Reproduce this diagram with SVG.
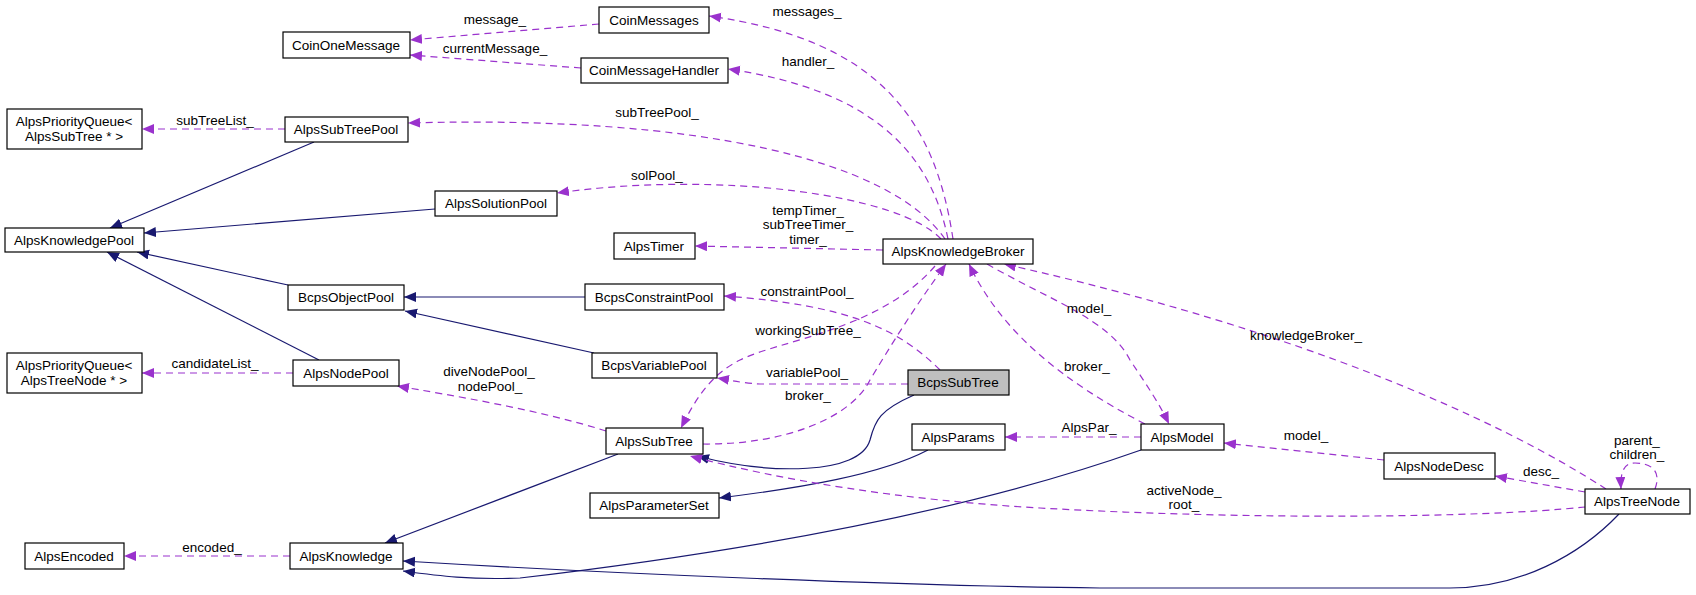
<svg xmlns="http://www.w3.org/2000/svg" width="1696" height="595" viewBox="0 0 1696 595">
<style>
.n rect{fill:#fff;stroke:#000;stroke-width:1.2}
.n text,.l{font-family:"Liberation Sans",Arial,sans-serif;font-size:13.5px;text-anchor:middle;fill:#000}
.i{fill:none;stroke:#191970;stroke-width:1.2;marker-end:url(#ai)}
.u{fill:none;stroke:#9a32cd;stroke-width:1.2;stroke-dasharray:7,5;marker-end:url(#au)}
</style>
<defs>
<marker id="ai" markerUnits="userSpaceOnUse" markerWidth="14" markerHeight="12" refX="12" refY="5" orient="auto"><path d="M0,0 L12,5 L0,10 Z" fill="#191970"/></marker>
<marker id="au" markerUnits="userSpaceOnUse" markerWidth="14" markerHeight="12" refX="12" refY="5" orient="auto"><path d="M0,0 L12,5 L0,10 Z" fill="#9a32cd"/></marker>
</defs>
<rect width="1696" height="595" fill="#fff"/>
<g id="connectors">
<path class="i" d="M314,142 L110,228"/>
<path class="i" d="M435,209 L144,233"/>
<path class="i" d="M288,285 L137,252"/>
<path class="i" d="M319,360 L107,252"/>
<path class="i" d="M585,297 L404,297"/>
<path class="i" d="M594,353 L405,311"/>
<path class="i" d="M914,395 C880,410 875,420 870,440 C860,475 770,475 697,456"/>
<path class="i" d="M928,450 C880,475 800,488 719,498"/>
<path class="i" d="M1141,450 C1000,500 800,545 520,578 C470,580 440,576 403,571"/>
<path class="i" d="M1619,514 C1580,555 1520,588 1450,588 L1100,588 C900,586 600,573 403,561"/>
<path class="i" d="M618,454 L385,543"/>
<path class="u" d="M599,24 L410,40"/>
<path class="u" d="M581,68 L410,55"/>
<path class="u" d="M285,129 L142,129"/>
<path class="u" d="M953,239 C935,120 880,40 709,16"/>
<path class="u" d="M948,239 C930,150 870,90 728,69"/>
<path class="u" d="M945,239 C890,160 700,115 408,123"/>
<path class="u" d="M941,239 C900,195 720,170 557,193"/>
<path class="u" d="M883,250 L695,246"/>
<path class="u" d="M940,370 C900,330 850,305 724,296"/>
<path class="u" d="M908,384 L760,384 C740,383 730,380 717,378"/>
<path class="u" d="M935,266 C880,330 780,340 740,360 C710,375 695,400 681,428"/>
<path class="u" d="M703,444 C780,445 850,420 870,380 C900,330 920,300 946,264"/>
<path class="u" d="M606,431 C540,410 450,395 397,386"/>
<path class="u" d="M1145,424 C1060,380 1000,330 969,264"/>
<path class="u" d="M987,264 C1050,300 1110,320 1130,360 C1150,390 1160,405 1169,424"/>
<path class="u" d="M1141,437 L1005,437"/>
<path class="u" d="M1384,460 L1224,443"/>
<path class="u" d="M1606,489 C1500,420 1300,330 1004,264"/>
<path class="u" d="M1585,492 L1495,476"/>
<path class="u" d="M1655,489 C1662,470 1650,463 1635,463 C1625,463 1620,470 1621,489"/>
<path class="u" d="M1585,507 C1480,518 1250,520 1040,508 C900,500 780,480 690,456"/>
<path class="u" d="M293,373 L142,373"/>
<path class="u" d="M290,556 L124,556"/>
<text class="l" x="495" y="24">message_</text>
<text class="l" x="495" y="53">currentMessage_</text>
<text class="l" x="215" y="125">subTreeList_</text>
<text class="l" x="807" y="16">messages_</text>
<text class="l" x="808" y="66">handler_</text>
<text class="l" x="657" y="117">subTreePool_</text>
<text class="l" x="657" y="180">solPool_</text>
<text class="l" x="808" y="215">tempTimer_</text>
<text class="l" x="808" y="229">subTreeTimer_</text>
<text class="l" x="808" y="244">timer_</text>
<text class="l" x="807" y="296">constraintPool_</text>
<text class="l" x="808" y="335">workingSubTree_</text>
<text class="l" x="807" y="377">variablePool_</text>
<text class="l" x="808" y="400">broker_</text>
<text class="l" x="489" y="376">diveNodePool_</text>
<text class="l" x="490" y="391">nodePool_</text>
<text class="l" x="1087" y="371">broker_</text>
<text class="l" x="1089" y="313">model_</text>
<text class="l" x="1089" y="432">AlpsPar_</text>
<text class="l" x="1306" y="440">model_</text>
<text class="l" x="1306" y="340">knowledgeBroker_</text>
<text class="l" x="1541" y="476">desc_</text>
<text class="l" x="1637" y="445">parent_</text>
<text class="l" x="1637" y="459">children_</text>
<text class="l" x="1184" y="495">activeNode_</text>
<text class="l" x="1184" y="509">root_</text>
<text class="l" x="215" y="368">candidateList_</text>
<text class="l" x="212" y="552">encoded_</text>
</g>
<g id="CoinMessages" class="n"><rect x="599" y="7" width="110" height="26"/><text x="654" y="25">CoinMessages</text></g>
<g id="CoinOneMessage" class="n"><rect x="283" y="32" width="127" height="26"/><text x="346" y="50">CoinOneMessage</text></g>
<g id="CoinMessageHandler" class="n"><rect x="581" y="58" width="147" height="25"/><text x="654" y="75">CoinMessageHandler</text></g>
<g id="PQSubTree" class="n"><rect x="7" y="109" width="135" height="40"/><text x="74" y="126">AlpsPriorityQueue&lt;</text><text x="74" y="141">AlpsSubTree * &gt;</text></g>
<g id="AlpsSubTreePool" class="n"><rect x="285" y="117" width="123" height="25"/><text x="346" y="134">AlpsSubTreePool</text></g>
<g id="AlpsSolutionPool" class="n"><rect x="435" y="191" width="122" height="25"/><text x="496" y="208">AlpsSolutionPool</text></g>
<g id="AlpsKnowledgePool" class="n"><rect x="5" y="228" width="139" height="24"/><text x="74" y="245">AlpsKnowledgePool</text></g>
<g id="AlpsTimer" class="n"><rect x="614" y="233" width="81" height="26"/><text x="654" y="251">AlpsTimer</text></g>
<g id="AlpsKnowledgeBroker" class="n"><rect x="883" y="239" width="150" height="25"/><text x="958" y="256">AlpsKnowledgeBroker</text></g>
<g id="BcpsObjectPool" class="n"><rect x="288" y="285" width="116" height="25"/><text x="346" y="302">BcpsObjectPool</text></g>
<g id="BcpsConstraintPool" class="n"><rect x="585" y="284" width="139" height="26"/><text x="654" y="302">BcpsConstraintPool</text></g>
<g id="PQTreeNode" class="n"><rect x="7" y="353" width="135" height="40"/><text x="74" y="370">AlpsPriorityQueue&lt;</text><text x="74" y="385">AlpsTreeNode * &gt;</text></g>
<g id="AlpsNodePool" class="n"><rect x="293" y="360" width="106" height="26"/><text x="346" y="378">AlpsNodePool</text></g>
<g id="BcpsVariablePool" class="n"><rect x="592" y="353" width="125" height="25"/><text x="654" y="370">BcpsVariablePool</text></g>
<g id="BcpsSubTree" class="n"><rect x="908" y="370" width="101" height="25" style="fill:#bfbfbf"/><text x="958" y="387">BcpsSubTree</text></g>
<g id="AlpsSubTree" class="n"><rect x="606" y="428" width="97" height="26"/><text x="654" y="446">AlpsSubTree</text></g>
<g id="AlpsParams" class="n"><rect x="912" y="424" width="93" height="26"/><text x="958" y="442">AlpsParams</text></g>
<g id="AlpsModel" class="n"><rect x="1141" y="424" width="83" height="26"/><text x="1182" y="442">AlpsModel</text></g>
<g id="AlpsNodeDesc" class="n"><rect x="1384" y="453" width="111" height="26"/><text x="1439" y="471">AlpsNodeDesc</text></g>
<g id="AlpsParameterSet" class="n"><rect x="590" y="493" width="129" height="25"/><text x="654" y="510">AlpsParameterSet</text></g>
<g id="AlpsTreeNode" class="n"><rect x="1585" y="489" width="105" height="25"/><text x="1637" y="506">AlpsTreeNode</text></g>
<g id="AlpsEncoded" class="n"><rect x="25" y="543" width="99" height="26"/><text x="74" y="561">AlpsEncoded</text></g>
<g id="AlpsKnowledge" class="n"><rect x="290" y="543" width="113" height="26"/><text x="346" y="561">AlpsKnowledge</text></g>
</svg>
